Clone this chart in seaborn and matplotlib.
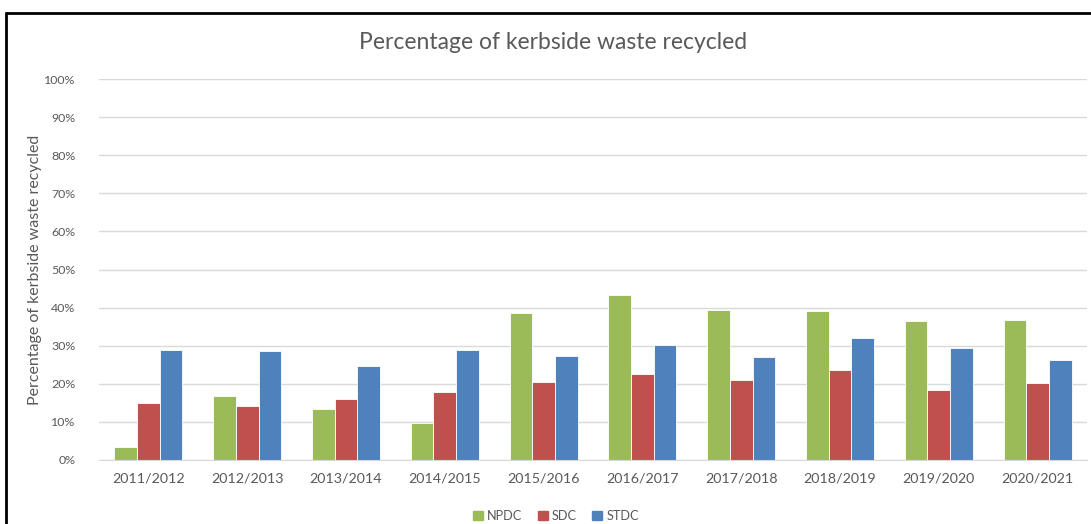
import matplotlib.pyplot as plt
import matplotlib.patches as mpatches
import pandas as pd
import seaborn as sns

years = ["2011/2012", "2012/2013", "2013/2014", "2014/2015", "2015/2016",
         "2016/2017", "2017/2018", "2018/2019", "2019/2020", "2020/2021"]
npdc = [3.3, 16.8, 13.5, 9.7, 38.6, 43.3, 39.4, 39.1, 36.4, 36.8]
sdc = [14.9, 14.2, 16.1, 17.9, 20.6, 22.5, 21.0, 23.7, 18.4, 20.2]
stdc = [28.9, 28.5, 24.7, 28.9, 27.4, 30.1, 27.0, 31.9, 29.3, 26.2]
councils = ["NPDC", "SDC", "STDC"]
colors = ["#9BBB59", "#C0504D", "#4F81BD"]

df = pd.DataFrame({"year": years, "NPDC": npdc, "SDC": sdc, "STDC": stdc})
df = df.melt(id_vars="year", var_name="council", value_name="pct")

sns.set_style("white")
plt.rcParams['font.family'] = ['Lato', 'DejaVu Sans']
grey = "#595959"

fig = plt.figure(figsize=(10.91, 5.24), dpi=100)
ax = fig.add_axes([99 / 1091, 1 - 460 / 524, 988 / 1091, 381 / 524])
sns.barplot(data=df, x="year", y="pct", hue="council", hue_order=councils,
            palette=colors, width=0.69, saturation=1, edgecolor="white",
            linewidth=0.6, ax=ax, legend=False)

ax.set_ylim(0, 100)
ax.set_xlim(-0.5, len(years) - 0.5)
ax.set_yticks(range(0, 101, 10))
ax.set_yticklabels([f"{v}%" for v in range(0, 101, 10)])
ax.yaxis.grid(True, color="#D9D9D9", linewidth=1)
ax.set_axisbelow(True)
for s in ["top", "right", "left"]:
    ax.spines[s].set_visible(False)
ax.spines["bottom"].set_color("#D9D9D9")
ax.tick_params(axis="both", length=0, colors=grey)
ax.tick_params(axis="x", pad=9, labelsize=10.3)
ax.tick_params(axis="y", pad=17, labelsize=8.9)
ax.set_xlabel("")
ax.set_ylabel("Percentage of kerbside waste recycled", color=grey, fontsize=11.5, labelpad=1.5)

fig.suptitle("Percentage of kerbside waste recycled", x=553 / 1091, y=1 - 43 / 524,
             va="center", fontsize=16.5, color=grey)

handles = [mpatches.Patch(color=c, label=n) for c, n in zip(colors, councils)]
fig.legend(handles=handles, loc="center", bbox_to_anchor=(556 / 1091, 1 - 516 / 524),
           ncol=3, frameon=False, fontsize=9.2, labelcolor=grey, handlelength=0.8,
           handleheight=0.8, handletextpad=0.3, columnspacing=1.2)

# outer frame of the screenshot
fig.add_artist(plt.Line2D([6 / 1091, 1], [1 - 13 / 524, 1 - 13 / 524],
                          transform=fig.transFigure, color="black", linewidth=2))
fig.add_artist(plt.Line2D([6 / 1091, 6 / 1091], [0, 1 - 13 / 524],
                          transform=fig.transFigure, color="black", linewidth=2))

fig.savefig("out.png", dpi=100)
